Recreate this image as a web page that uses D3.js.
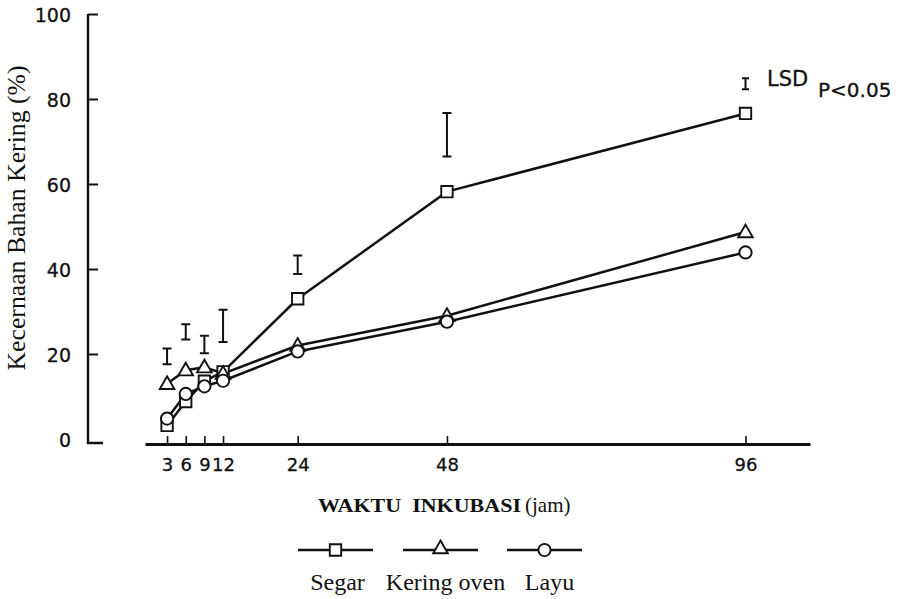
<!DOCTYPE html>
<html>
<head>
<meta charset="utf-8">
<script src="https://cdn.jsdelivr.net/npm/d3@7"></script>
<style>
  html, body { margin: 0; padding: 0; background: #fff; }
  svg { display: block; }
</style>
</head>
<body>
<svg id="chart" width="899" height="599"></svg>
<script>
// Incubation times (h) and dry matter digestibility (%) per treatment
const hours = [3, 6, 9, 12, 24, 48, 96];
const xTickLabels = ["3", "6", "9", "12", "24", "48", "96"];
const yTicks = [0, 20, 40, 60, 80, 100];

const segar      = [3.2, 8.8, 13.6, 15.8, 33.0, 58.2, 76.6];
const keringOven = [13.0, 16.2, 16.9, 15.4, 22.0, 29.0, 48.7];
const layu       = [4.8, 10.6, 12.4, 13.7, 20.6, 27.6, 43.9];

// LSD (P<0.05) bars at each incubation time
const lsdLow  = [17.6, 23.4, 20.2, 22.8, 38.8, 66.5, 82.3];
const lsdHigh = [21.3, 27.0, 24.3, 30.4, 43.2, 76.7, 84.9];

const seriesNames = ["Segar", "Kering oven", "Layu"];
const seriesMarkers = ["square", "triangle", "circle"];
const yTitle = "Kecernaan Bahan Kering (%)";
const xTitleCaps = "WAKTU  INKUBASI";
const xTitleUnit = "(jam)";
const lsdText = "LSD";
const lsdP = "P<0.05";

const svg = d3.select("#chart");
const ink = "#111";

const x = d3.scaleLinear().domain([-0.55, 106.37]).range([145, 810]);
const y = d3.scaleLinear().domain([0, 100]).range([439, 14]);
const xAxisY = 444;

// ---- y axis ----
const yAxis = svg.append("g")
  .attr("transform", "translate(88,0)")
  .call(d3.axisLeft(y).tickValues(yTicks).tickSizeInner(-10).tickSizeOuter(0).tickPadding(17));
yAxis.select(".domain").remove();
yAxis.selectAll(".tick line").attr("stroke", ink).attr("stroke-width", 2)
  .filter(d => d === 0).remove();
yAxis.selectAll(".tick text")
  .attr("font-family", "DejaVu Sans, sans-serif").attr("font-size", 19).attr("fill", ink)
  .attr("stroke", ink).attr("stroke-width", 0.3)
  .attr("dy", "0.42em");
yAxis.append("path")
  .attr("d", `M0,${y(100)}V${y(0) + 4}H15`)
  .attr("fill", "none").attr("stroke", ink).attr("stroke-width", 2.4);

// ---- x axis ----
const xAxis = svg.append("g")
  .attr("transform", `translate(0,${xAxisY})`)
  .call(d3.axisBottom(x).tickValues(hours).tickFormat((d, i) => xTickLabels[i])
    .tickSizeInner(-8).tickSizeOuter(0).tickPadding(14));
xAxis.select(".domain").attr("stroke", ink).attr("stroke-width", 3);
xAxis.selectAll(".tick line").attr("stroke", ink).attr("stroke-width", 1.6);
xAxis.selectAll(".tick text")
  .attr("font-family", "DejaVu Sans, sans-serif").attr("font-size", 18).attr("fill", ink)
  .attr("stroke", ink).attr("stroke-width", 0.3);

// ---- axis titles ----
svg.append("text")
  .attr("transform", "translate(25,218) rotate(-90)")
  .attr("text-anchor", "middle")
  .attr("font-family", "Liberation Serif, Times New Roman, serif")
  .attr("font-size", 25).attr("fill", ink)
  .attr("textLength", 305).attr("lengthAdjust", "spacingAndGlyphs")
  .text(yTitle);

const xt = svg.append("text")
  .attr("x", 318).attr("y", 512)
  .attr("font-family", "Liberation Serif, Times New Roman, serif").attr("fill", ink)
  .attr("xml:space", "preserve");
xt.append("tspan").attr("font-weight", "bold").attr("font-size", 19)
  .attr("textLength", 203).attr("lengthAdjust", "spacingAndGlyphs")
  .text(xTitleCaps);
xt.append("tspan").attr("x", 525).attr("font-size", 21).text(xTitleUnit);

// ---- LSD bars ----
const lsd = svg.append("g").attr("stroke", ink).attr("stroke-width", 2).attr("fill", "none");
hours.forEach((h, i) => {
  const cx = x(h), y0 = y(lsdLow[i]), y1 = y(lsdHigh[i]);
  const cap = i === hours.length - 1 ? 3.5 : 4.5;
  lsd.append("path").attr("d",
    `M${cx - cap},${y1}H${cx + cap}M${cx},${y1}V${y0}M${cx - cap},${y0}H${cx + cap}`);
});
svg.append("text").attr("x", 767).attr("y", 86)
  .attr("font-family", "DejaVu Sans, sans-serif").attr("font-size", 21).attr("fill", ink)
  .attr("stroke", ink).attr("stroke-width", 0.3)
  .text(lsdText);
svg.append("text").attr("x", 818).attr("y", 97)
  .attr("font-family", "DejaVu Sans, sans-serif").attr("font-size", 20).attr("fill", ink)
  .attr("stroke", ink).attr("stroke-width", 0.3)
  .text(lsdP);

// ---- series ----
const symbolFor = {
  square: d3.symbol().type(d3.symbolSquare).size(130),
  triangle: d3.symbol().type(d3.symbolTriangle).size(92),
  circle: d3.symbol().type(d3.symbolCircle).size(118)
};
const allSeries = [segar, keringOven, layu];
const line = d3.line().x((d, i) => x(hours[i])).y(d => y(d));

allSeries.forEach(vals => {
  svg.append("path").datum(vals)
    .attr("d", line).attr("fill", "none")
    .attr("stroke", ink).attr("stroke-width", 2.5).attr("stroke-linejoin", "round");
});
allSeries.forEach((vals, s) => {
  svg.append("g").selectAll("path").data(vals).join("path")
    .attr("transform", (d, i) => `translate(${x(hours[i])},${y(d) + (seriesMarkers[s] === "triangle" ? 1 : 0)})`)
    .attr("d", symbolFor[seriesMarkers[s]])
    .attr("fill", "#fff").attr("stroke", ink).attr("stroke-width", 1.9);
});

// ---- legend ----
const legendX = [298, 403, 507];
const legendW = 75;
const legendY = 550;
const legend = svg.append("g");
seriesNames.forEach((name, s) => {
  const lx = legendX[s];
  legend.append("line")
    .attr("x1", lx).attr("x2", lx + legendW).attr("y1", legendY).attr("y2", legendY)
    .attr("stroke", ink).attr("stroke-width", 2.4);
  legend.append("path")
    .attr("transform", `translate(${lx + legendW / 2},${legendY + (seriesMarkers[s] === "triangle" ? -1 : 0)})`)
    .attr("d", symbolFor[seriesMarkers[s]])
    .attr("fill", "#fff").attr("stroke", ink).attr("stroke-width", 1.9);
  legend.append("text")
    .attr("x", lx + legendW / 2 + (s === 0 ? 2 : 5)).attr("y", 590)
    .attr("text-anchor", "middle")
    .attr("font-family", "Liberation Serif, Times New Roman, serif")
    .attr("font-size", 24).attr("fill", ink)
    .text(name);
});
</script>
</body>
</html>
